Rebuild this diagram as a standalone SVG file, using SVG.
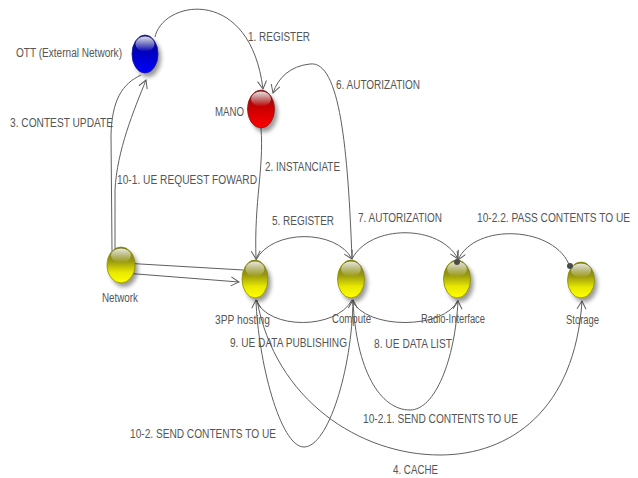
<svg xmlns="http://www.w3.org/2000/svg" width="638" height="478" viewBox="0 0 638 478">
  <defs>
    <style>
      .lbl { font-family: "Liberation Sans Narrow", "Liberation Sans", Arial, sans-serif; font-size: 12.5px; fill: #555555; }
      .edge { fill: none; stroke: #5f5f5f; stroke-width: 1; }
      .shadow { fill: #000; opacity: 0.4; filter: url(#blur); }
      .shine { fill: url(#gShine); }
      .dot { fill: #4a4a4a; }
    </style>
    <filter id="blur" x="-50%" y="-50%" width="200%" height="200%">
      <feGaussianBlur stdDeviation="2"/>
    </filter>
    <linearGradient id="gYellow" x1="0" y1="0" x2="0" y2="1">
      <stop offset="0" stop-color="#6e6e1e"/>
      <stop offset="0.4" stop-color="#9a9a10"/>
      <stop offset="0.7" stop-color="#e8e800"/>
      <stop offset="1" stop-color="#ffff00"/>
    </linearGradient>
    <linearGradient id="gBlue" x1="0" y1="0" x2="0" y2="1">
      <stop offset="0" stop-color="#1a1a70"/>
      <stop offset="0.45" stop-color="#0000c0"/>
      <stop offset="1" stop-color="#0000ff"/>
    </linearGradient>
    <linearGradient id="gRed" x1="0" y1="0" x2="0" y2="1">
      <stop offset="0" stop-color="#701a1a"/>
      <stop offset="0.45" stop-color="#c80000"/>
      <stop offset="1" stop-color="#ff0000"/>
    </linearGradient>
    <linearGradient id="gShine" x1="0" y1="0" x2="0" y2="1">
      <stop offset="0" stop-color="#ffffff" stop-opacity="0.85"/>
      <stop offset="1" stop-color="#ffffff" stop-opacity="0"/>
    </linearGradient>
    <marker id="arrow" viewBox="0 0 10 10" refX="9" refY="5" markerWidth="10" markerHeight="10" markerUnits="userSpaceOnUse" orient="auto-start-reverse" overflow="visible">
      <path d="M1,0.5 L9,5 L1,9.5" fill="none" stroke="#5f5f5f" stroke-width="1"/>
    </marker>
  </defs>

  <rect width="638" height="478" fill="#ffffff"/>

  <!-- connectors -->
  <g id="connectors">
    <!-- 1. REGISTER : OTT -> MANO -->
    <path class="edge" d="M155,37 C163,0 250,-15 263,89" marker-end="url(#arrow)"/>
    <!-- 6. AUTORIZATION : Compute -> MANO -->
    <path class="edge" d="M352,259 C348,150 340,60 310,64 C290,66 278,78 273,93" marker-end="url(#arrow)"/>
    <!-- 2. INSTANCIATE : MANO -> 3PP hosting -->
    <path class="edge" d="M261,128 C264,170 254,200 256,259" marker-end="url(#arrow)"/>
    <!-- 3. CONTEST UPDATE / 10-1. UE REQUEST FOWARD via Network -->
    <path class="edge" d="M141,75 C122,84 112,100 111,135 L112,250 C112,258 116,262 123,263 L243,270"/>
    <path class="edge" d="M146,80 C134,110 117,150 115,190 L115,265 C115,270 118,272 124,273 L239,282" marker-start="url(#arrow)" marker-end="url(#arrow)"/>
    <!-- 5. REGISTER : 3PP hosting -> Compute -->
    <path class="edge" d="M256,260 C272,229 336,229 352,259" marker-end="url(#arrow)"/>
    <!-- 7. AUTORIZATION : Compute -> Radio-Interface -->
    <path class="edge" d="M352,259 C370,224 440,224 458,259" marker-end="url(#arrow)"/>
    <!-- 10-2.2. PASS CONTENTS TO UE : Storage -> Radio-Interface -->
    <path class="edge" d="M570,267 C556,226 475,222 458,260" marker-end="url(#arrow)"/>
    <!-- 9. UE DATA PUBLISHING : shallow arc under 3PP hosting / Compute -->
    <path class="edge" d="M256,300 C268,330 336,330 352,300"/>
    <!-- shallow arc under Compute / Radio-Interface -->
    <path class="edge" d="M352,300 C365,330 445,330 458,300"/>
    <!-- 10-2. SEND CONTENTS TO UE : deep loop 3PP hosting / Compute -->
    <path class="edge" d="M256,300 C258,360 280,447 304,447 C328,447 352,370 353,300" marker-start="url(#arrow)" marker-end="url(#arrow)"/>
    <!-- 8. UE DATA LIST / 10-2.1 : loop Compute / Radio-Interface -->
    <path class="edge" d="M353,300 C356,370 380,410 410,410 C435,410 455,360 458,301" marker-end="url(#arrow)"/>
    <!-- 4. CACHE : 3PP hosting -> Storage -->
    <path class="edge" d="M257,300 C275,400 360,455 440,455 C510,455 575,410 582,301" marker-end="url(#arrow)"/>
  </g>

  <!-- edge labels -->
  <g id="edge-labels">
    <text class="lbl" x="248" y="41" textLength="62" lengthAdjust="spacingAndGlyphs">1. REGISTER</text>
    <text class="lbl" x="336" y="89" textLength="84" lengthAdjust="spacingAndGlyphs">6. AUTORIZATION</text>
    <text class="lbl" x="10" y="127" textLength="103" lengthAdjust="spacingAndGlyphs">3. CONTEST UPDATE</text>
    <text class="lbl" x="265" y="171" textLength="75" lengthAdjust="spacingAndGlyphs">2. INSTANCIATE</text>
    <text class="lbl" x="117" y="184" textLength="140" lengthAdjust="spacingAndGlyphs">10-1. UE REQUEST FOWARD</text>
    <text class="lbl" x="272" y="225" textLength="62" lengthAdjust="spacingAndGlyphs">5. REGISTER</text>
    <text class="lbl" x="358" y="222" textLength="84" lengthAdjust="spacingAndGlyphs">7. AUTORIZATION</text>
    <text class="lbl" x="477" y="222" textLength="153" lengthAdjust="spacingAndGlyphs">10-2.2. PASS CONTENTS TO UE</text>
    <text class="lbl" x="230" y="347" textLength="117" lengthAdjust="spacingAndGlyphs">9. UE DATA PUBLISHING</text>
    <text class="lbl" x="374" y="348" textLength="78" lengthAdjust="spacingAndGlyphs">8. UE DATA LIST</text>
    <text class="lbl" x="363" y="423" textLength="155" lengthAdjust="spacingAndGlyphs">10-2.1. SEND CONTENTS TO UE</text>
    <text class="lbl" x="130" y="438" textLength="146" lengthAdjust="spacingAndGlyphs">10-2. SEND CONTENTS TO UE</text>
    <text class="lbl" x="393" y="474" textLength="45" lengthAdjust="spacingAndGlyphs">4. CACHE</text>
  </g>

  <!-- nodes -->
  <g id="node-ott">
    <ellipse class="shadow" cx="148" cy="58" rx="13" ry="19"/>
    <ellipse cx="145" cy="54" rx="13" ry="19" fill="url(#gBlue)" stroke="#1a1a8a" stroke-width="0.8"/>
    <ellipse class="shine" cx="145" cy="44" rx="9.5" ry="7.5"/>
    <text class="lbl" x="16" y="57" textLength="106" lengthAdjust="spacingAndGlyphs">OTT (External Network)</text>
  </g>
  <g id="node-mano">
    <ellipse class="shadow" cx="264" cy="113" rx="13.5" ry="19"/>
    <ellipse cx="261" cy="109" rx="13.5" ry="19" fill="url(#gRed)" stroke="#8a1a1a" stroke-width="0.8"/>
    <ellipse class="shine" cx="261" cy="99" rx="10" ry="7.5"/>
    <text class="lbl" x="215" y="116" textLength="29" lengthAdjust="spacingAndGlyphs">MANO</text>
  </g>
  <g id="node-network">
    <ellipse class="shadow" cx="124" cy="269" rx="14" ry="18"/>
    <ellipse cx="121" cy="265" rx="14" ry="18" fill="url(#gYellow)" stroke="#8c8c00" stroke-width="0.8"/>
    <ellipse class="shine" cx="121" cy="255.5" rx="10" ry="7"/>
    <text class="lbl" x="102" y="302" textLength="36" lengthAdjust="spacingAndGlyphs">Network</text>
  </g>
  <g id="node-3pp">
    <ellipse class="shadow" cx="258" cy="283" rx="13" ry="19"/>
    <ellipse cx="255" cy="279" rx="13" ry="19" fill="url(#gYellow)" stroke="#8c8c00" stroke-width="0.8"/>
    <ellipse class="shine" cx="255" cy="269" rx="9.5" ry="7.5"/>
    <text class="lbl" x="215" y="324" textLength="55" lengthAdjust="spacingAndGlyphs">3PP hosting</text>
  </g>
  <g id="node-compute">
    <ellipse class="shadow" cx="354" cy="283" rx="13.5" ry="19"/>
    <ellipse cx="351" cy="279" rx="13.5" ry="19" fill="url(#gYellow)" stroke="#8c8c00" stroke-width="0.8"/>
    <ellipse class="shine" cx="351" cy="269" rx="10" ry="7.5"/>
    <text class="lbl" x="332" y="323" textLength="39" lengthAdjust="spacingAndGlyphs">Compute</text>
  </g>
  <g id="node-radio">
    <ellipse class="shadow" cx="460" cy="283" rx="13.5" ry="19"/>
    <ellipse cx="457" cy="279" rx="13.5" ry="19" fill="url(#gYellow)" stroke="#8c8c00" stroke-width="0.8"/>
    <ellipse class="shine" cx="457" cy="269" rx="10" ry="7.5"/>
    <text class="lbl" x="421" y="323" textLength="64" lengthAdjust="spacingAndGlyphs">Radio-Interface</text>
  </g>
  <g id="node-storage">
    <ellipse class="shadow" cx="584" cy="284" rx="13.5" ry="18"/>
    <ellipse cx="581" cy="280" rx="13.5" ry="18" fill="url(#gYellow)" stroke="#8c8c00" stroke-width="0.8"/>
    <ellipse class="shine" cx="581" cy="270.5" rx="10" ry="7"/>
    <text class="lbl" x="566" y="324" textLength="33" lengthAdjust="spacingAndGlyphs">Storage</text>
  </g>

  <!-- connector end dots, drawn above the node bodies -->
  <g id="connector-dots">
    <circle class="dot" cx="457" cy="262" r="3"/>
    <circle class="dot" cx="570" cy="266" r="3"/>
  </g>
</svg>
